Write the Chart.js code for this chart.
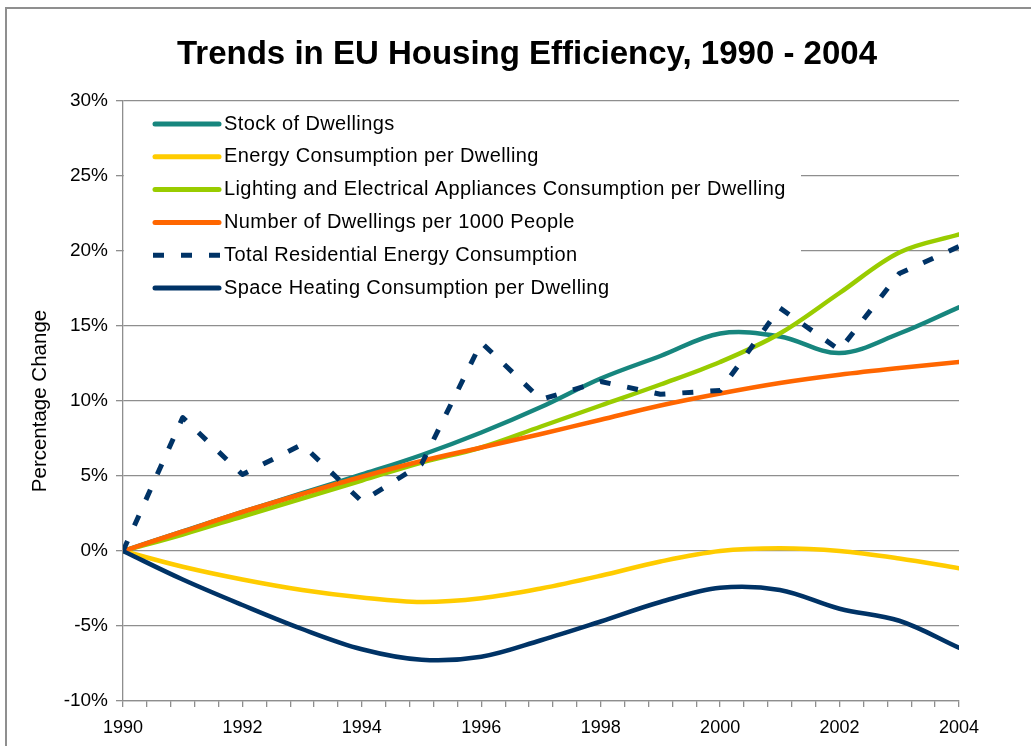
<!DOCTYPE html>
<html>
<head>
<meta charset="utf-8">
<script src="https://cdn.jsdelivr.net/npm/chart.js@4.4.1/dist/chart.umd.min.js"></script>
<style>
  body { margin: 0; background: #fff; overflow: hidden; }
  #frame { position: absolute; left: 5px; top: 7px; width: 1100px; height: 800px; border: 2px solid #8f8f8f; }
  #wrap { position: absolute; left: 0; top: 0; width: 1031px; height: 746px; }
</style>
</head>
<body>
<div id="frame"></div>
<div id="wrap"><canvas id="effChart" width="1031" height="746"></canvas></div>
<script>
// values, % change vs 1990
const years = [1990, 1991, 1992, 1993, 1994, 1995, 1996, 1997, 1998, 1999, 2000, 2001, 2002, 2003, 2004];
const stockOfDwellings = [0, 1.3, 2.6, 3.85, 5.1, 6.4, 7.9, 9.6, 11.5, 13.0, 14.5, 14.3, 13.2, 14.5, 16.25];
const energyPerDwelling = [0, -1.05, -1.9, -2.6, -3.1, -3.4, -3.15, -2.5, -1.65, -0.7, 0.0, 0.18, 0.0, -0.5, -1.15];
const lightingPerDwelling = [0, 1.1, 2.3, 3.5, 4.7, 5.9, 6.9, 8.3, 9.7, 11.1, 12.6, 14.5, 17.2, 19.9, 21.1];
const dwellingsPer1000 = [0, 1.3, 2.6, 3.8, 4.95, 6.0, 6.9, 7.8, 8.75, 9.7, 10.5, 11.2, 11.75, 12.2, 12.6];
const totalResidential = [0, 8.9, 5.1, 7.1, 3.3, 5.8, 13.9, 10.1, 11.3, 10.45, 10.7, 16.2, 13.4, 18.5, 20.3];
const spaceHeating = [0, -1.9, -3.6, -5.2, -6.55, -7.25, -7.05, -5.95, -4.7, -3.4, -2.45, -2.6, -3.85, -4.65, -6.45];

const chartTitle = "Trends in EU Housing Efficiency, 1990 - 2004";
const FONT = "'Liberation Sans', Arial, sans-serif";

function pts(vals) {
  return years.map((y, i) => ({ x: y, y: vals[i] }));
}

function series(label, vals, color, i, extra) {
  return Object.assign({
    label: label,
    data: pts(vals),
    borderColor: color,
    backgroundColor: color,
    borderWidth: 4.5,
    pointRadius: 0,
    tension: 0.35,
    fill: false,
    borderCapStyle: "round",
    borderJoinStyle: "round",
    order: 6 - i,
  }, extra || {});
}

// title drawn by hand so it centres on the whole picture, not the plot
const pageTitle = {
  id: "pageTitle",
  afterDraw(chart) {
    const c = chart.ctx;
    c.save();
    c.font = "bold 33px " + FONT;
    c.fillStyle = "#000";
    c.textAlign = "center";
    c.textBaseline = "middle";
    c.fillText(chartTitle, 527, 55);
    c.restore();
  },
};

// legend sits inside the plot on a white box, like the original
const boxLegend = {
  id: "boxLegend",
  beforeDatasetsDraw(chart) {
    const c = chart.ctx;
    const a = chart.chartArea;
    c.save();
    c.fillStyle = "#fff";
    c.fillRect(a.left + 1, a.top + 2, 677, 202);
    c.font = "20px " + FONT;
    c.letterSpacing = "0.4px";
    c.textBaseline = "middle";
    chart.data.datasets.forEach((ds, i) => {
      const y = a.top + 23 + i * 32.8;
      c.beginPath();
      c.strokeStyle = ds.borderColor;
      c.lineWidth = 5;
      if (ds.borderDash) {
        c.setLineDash(ds.borderDash);
        c.lineCap = "butt";
        c.moveTo(a.left + 30, y);
        c.lineTo(a.left + 98, y);
      } else {
        c.setLineDash([]);
        c.lineCap = "round";
        c.moveTo(a.left + 32, y);
        c.lineTo(a.left + 96, y);
      }
      c.stroke();
      c.setLineDash([]);
      c.fillStyle = "#000";
      c.fillText(ds.label, a.left + 101, y);
    });
    c.restore();
  },
};

const ctx = document.getElementById("effChart").getContext("2d");
new Chart(ctx, {
  type: "line",
  data: {
    datasets: [
      series("Stock of Dwellings", stockOfDwellings, "#17867e", 0),
      series("Energy Consumption per Dwelling", energyPerDwelling, "#ffcc00", 1),
      series("Lighting and Electrical Appliances Consumption per Dwelling", lightingPerDwelling, "#99cc00", 2),
      series("Number of Dwellings per 1000 People", dwellingsPer1000, "#ff6600", 3),
      series("Total Residential Energy Consumption", totalResidential, "#003366", 4,
        { borderWidth: 5, tension: 0, borderDash: [11, 17], borderCapStyle: "butt" }),
      series("Space Heating Consumption per Dwelling", spaceHeating, "#003366", 5),
    ],
  },
  options: {
    responsive: false,
    animation: false,
    layout: { padding: { left: 0, right: 72, top: 101, bottom: 0 } },
    plugins: {
      legend: { display: false },
      tooltip: { enabled: false },
      title: { display: false },
    },
    scales: {
      x: {
        type: "linear",
        min: 1990,
        max: 2004,
        afterFit: (s) => { s.height = 45; },
        grid: { drawOnChartArea: false, drawTicks: true, tickLength: 6, color: "#8e8e8e", lineWidth: 1.3 },
        border: { display: true, color: "#8e8e8e", width: 1.3 },
        ticks: {
          stepSize: 0.4,
          autoSkip: false,
          maxRotation: 0,
          padding: 10,
          color: "#000",
          font: { family: FONT, size: 18 },
          callback: (v) => {
            const r = Math.round(v);
            return Math.abs(v - r) < 0.01 && r % 2 === 0 ? String(r) : "";
          },
        },
      },
      y: {
        min: -10,
        max: 30,
        afterFit: (s) => { s.width = 123; },
        grid: { color: "#8e8e8e", lineWidth: 1.3, tickLength: 7 },
        border: { display: true, color: "#8e8e8e", width: 1.3 },
        ticks: {
          stepSize: 5,
          padding: 8,
          color: "#000",
          font: { family: FONT, size: 19 },
          callback: (v) => v + "%",
        },
        title: {
          display: true,
          text: "Percentage Change",
          color: "#000",
          font: { family: FONT, size: 20.5 },
          padding: { top: 28, bottom: 0 },
        },
      },
    },
  },
  plugins: [boxLegend, pageTitle],
});
</script>
</body>
</html>
